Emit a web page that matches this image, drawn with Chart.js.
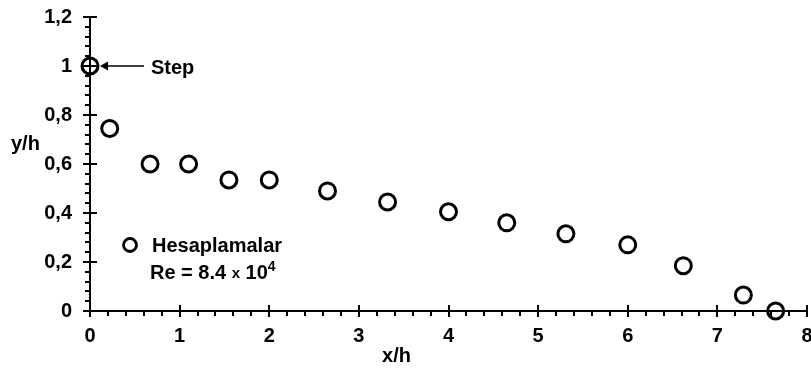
<!DOCTYPE html>
<html>
<head>
<meta charset="utf-8">
<script src="https://cdn.jsdelivr.net/npm/chart.js@4.4.1/dist/chart.umd.min.js"></script>
<style>
  html, body { margin: 0; padding: 0; background: #fff; }
  #wrap { width: 811px; height: 370px; position: relative; }
</style>
</head>
<body>
<div id="wrap"><canvas id="c" width="811" height="370"></canvas></div>
<script>
// Reattachment profile behind the step: x/h vs y/h
const xOverH = [0, 0.22, 0.67, 1.10, 1.55, 2.00, 2.65, 3.32, 4.00, 4.65, 5.31, 6.00, 6.62, 7.29, 7.65];
const yOverH = [1.00, 0.745, 0.60, 0.60, 0.535, 0.535, 0.49, 0.445, 0.405, 0.36, 0.315, 0.27, 0.185, 0.065, 0.00];

const xRange = [0, 8];
const yRange = [0, 1.2];
const xMajorStep = 1, xMinorStep = 0.2;
const yMajorStep = 0.2, yMinorStep = 0.04;

const seriesName = 'Hesaplamalar';
const stepLabel = 'Step';
const xTitle = 'x/h';
const yTitle = 'y/h';

const FONT = '"Liberation Sans", Arial, Helvetica, sans-serif';
const FS = 20;

const points = xOverH.map((x, i) => ({ x, y: yOverH[i] }));

// Tick marks, axis titles, the step callout and the legend text
const decor = {
  id: 'decor',
  afterDraw(chart) {
    const { ctx } = chart;
    const xs = chart.scales.x, ys = chart.scales.y;
    const x0 = xs.getPixelForValue(xRange[0]);
    const y0 = ys.getPixelForValue(yRange[0]);
    ctx.save();
    ctx.strokeStyle = '#000';
    ctx.lineWidth = 2;
    ctx.beginPath();
    // y axis: majors cross the line, minors sit outside
    const ny = Math.round((yRange[1] - yRange[0]) / yMinorStep);
    for (let i = 0; i <= ny; i++) {
      const v = yRange[0] + i * yMinorStep;
      const py = Math.round(ys.getPixelForValue(v));
      const major = i % Math.round(yMajorStep / yMinorStep) === 0;
      if (major) { ctx.moveTo(x0 - 7, py); ctx.lineTo(x0 + 7, py); }
      else { ctx.moveTo(x0 - 5, py); ctx.lineTo(x0, py); }
    }
    // x axis
    const nx = Math.round((xRange[1] - xRange[0]) / xMinorStep);
    for (let i = 0; i <= nx; i++) {
      const v = xRange[0] + i * xMinorStep;
      const px = Math.round(xs.getPixelForValue(v));
      const major = i % Math.round(xMajorStep / xMinorStep) === 0;
      if (major) { ctx.moveTo(px, y0 - 6); ctx.lineTo(px, y0 + 6); }
      else { ctx.moveTo(px, y0); ctx.lineTo(px, y0 + 5); }
    }
    ctx.stroke();

    ctx.fillStyle = '#000';
    ctx.textBaseline = 'middle';
    ctx.font = 'bold ' + FS + 'px ' + FONT;
    ctx.textAlign = 'left';
    ctx.fillText(yTitle, 11, 144);
    ctx.textAlign = 'center';
    ctx.fillText(xTitle, xs.getPixelForValue(3.42), 356);

    // Step callout pointing at the first point
    const sx = xs.getPixelForValue(xOverH[0]);
    const sy = ys.getPixelForValue(yOverH[0]);
    ctx.lineWidth = 1.5;
    ctx.beginPath();
    ctx.moveTo(sx + 16, sy);
    ctx.lineTo(sx + 54, sy);
    ctx.stroke();
    ctx.beginPath();
    ctx.moveTo(sx + 10, sy);
    ctx.lineTo(sx + 18, sy - 4.5);
    ctx.lineTo(sx + 18, sy + 4.5);
    ctx.closePath();
    ctx.fill();
    ctx.textAlign = 'left';
    ctx.fillText(stepLabel, sx + 61, sy + 2);

    // Legend
    ctx.lineWidth = 2.8;
    ctx.beginPath();
    ctx.arc(130, 245, 6.5, 0, Math.PI * 2);
    ctx.stroke();
    ctx.fillText(seriesName, 152, 246);
    let tx = 150;
    const ty = 273;
    const parts = [
      ['Re = 8.4 ', FS, 0],
      ['x', 15, 1],
      [' 10', FS, 0],
      ['4', 14, -6]
    ];
    for (const [t, s, dy] of parts) {
      ctx.font = 'bold ' + s + 'px ' + FONT;
      ctx.fillText(t, tx, ty + dy);
      tx += ctx.measureText(t).width;
    }
    ctx.restore();
  }
};

new Chart(document.getElementById('c'), {
  type: 'scatter',
  data: {
    datasets: [{
      label: seriesName,
      data: points,
      pointStyle: 'circle',
      pointRadius: 8,
      pointHoverRadius: 8,
      borderColor: '#000',
      backgroundColor: 'rgba(0,0,0,0)',
      borderWidth: 3,
      clip: false
    }]
  },
  options: {
    responsive: false,
    animation: false,
    events: [],
    layout: { autoPadding: false, padding: { top: 17, right: 4, left: 0, bottom: 0 } },
    plugins: { legend: { display: false }, tooltip: { enabled: false } },
    scales: {
      x: {
        type: 'linear',
        min: xRange[0], max: xRange[1],
        grid: { display: false, drawTicks: false },
        border: { display: true, color: '#000', width: 2 },
        ticks: {
          stepSize: xMajorStep,
          padding: 13,
          color: '#000',
          font: { family: FONT, size: FS, weight: 'bold' },
          maxRotation: 0,
          callback: v => String(Math.round(v))
        },
        afterFit(s) { s.height = 59; s.paddingLeft = 0; s.paddingRight = 0; }
      },
      y: {
        type: 'linear',
        min: yRange[0], max: yRange[1],
        grid: { display: false, drawTicks: false },
        border: { display: true, color: '#000', width: 2 },
        ticks: {
          stepSize: yMajorStep,
          padding: 18,
          color: '#000',
          font: { family: FONT, size: FS, weight: 'bold' },
          callback: v => String(Math.round(v * 10) / 10).replace('.', ',')
        },
        afterFit(s) { s.width = 90; s.paddingTop = 0; s.paddingBottom = 0; }
      }
    }
  },
  plugins: [decor]
});
</script>
</body>
</html>
